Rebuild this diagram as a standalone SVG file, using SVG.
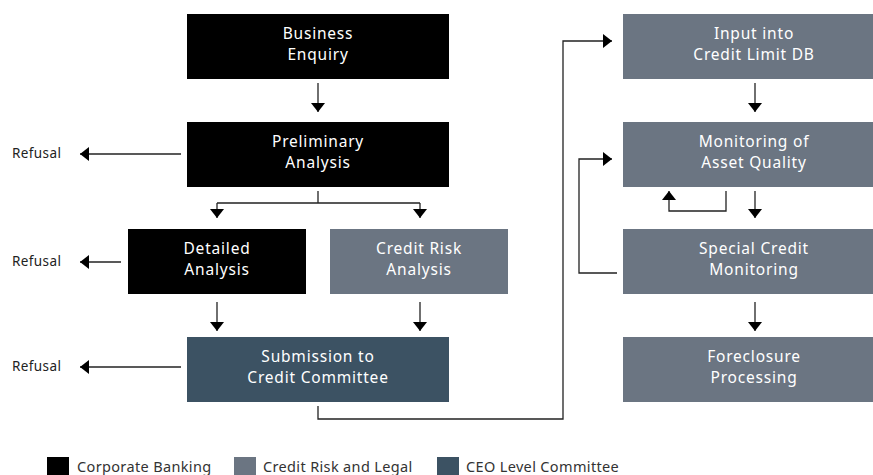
<svg xmlns="http://www.w3.org/2000/svg" width="873" height="475" viewBox="0 0 873 475">
  <defs>
    <marker id="head" markerUnits="userSpaceOnUse" viewBox="0 0 9 14" markerWidth="9" markerHeight="14" refX="9" refY="7" orient="auto">
      <path d="M0,0 L9,7 L0,14 Z" fill="#000"/>
    </marker>
    <style>
      .corp { fill: #000000; }
      .risk { fill: #6b7582; }
      .ceo { fill: #3c5263; }
      .label { font-family: "Noto Sans", "Liberation Sans", sans-serif; font-size: 15.5px; letter-spacing: 0.8px; fill: #ffffff; text-anchor: middle; }
      .side { font-family: "Noto Sans", "Liberation Sans", sans-serif; font-size: 13.5px; letter-spacing: 0.4px; fill: #222222; }
      .legend { font-family: "Noto Sans", "Liberation Sans", sans-serif; font-size: 14.5px; letter-spacing: 0.35px; fill: #333333; }
      .link { fill: none; stroke: #222222; stroke-width: 1.3; }
      .arrow { marker-end: url(#head); }
    </style>
  </defs>

  <!-- process nodes -->
  <g id="business-enquiry">
    <rect class="corp" x="187" y="14" width="262" height="65"/>
    <text class="label" x="318" y="39">Business</text>
    <text class="label" x="318" y="60">Enquiry</text>
  </g>
  <g id="preliminary-analysis">
    <rect class="corp" x="187" y="122" width="262" height="65"/>
    <text class="label" x="318" y="147">Preliminary</text>
    <text class="label" x="318" y="168">Analysis</text>
  </g>
  <g id="detailed-analysis">
    <rect class="corp" x="128" y="229" width="178" height="65"/>
    <text class="label" x="217" y="254">Detailed</text>
    <text class="label" x="217" y="275">Analysis</text>
  </g>
  <g id="credit-risk-analysis">
    <rect class="risk" x="330" y="229" width="178" height="65"/>
    <text class="label" x="419" y="254">Credit Risk</text>
    <text class="label" x="419" y="275">Analysis</text>
  </g>
  <g id="submission">
    <rect class="ceo" x="187" y="337" width="262" height="65"/>
    <text class="label" x="318" y="362">Submission to</text>
    <text class="label" x="318" y="383">Credit Committee</text>
  </g>
  <g id="input-credit-limit">
    <rect class="risk" x="623" y="14" width="262" height="65"/>
    <text class="label" x="754" y="39">Input into</text>
    <text class="label" x="754" y="60">Credit Limit DB</text>
  </g>
  <g id="monitoring-asset-quality">
    <rect class="risk" x="623" y="122" width="262" height="65"/>
    <text class="label" x="754" y="147">Monitoring of</text>
    <text class="label" x="754" y="168">Asset Quality</text>
  </g>
  <g id="special-credit-monitoring">
    <rect class="risk" x="623" y="229" width="262" height="65"/>
    <text class="label" x="754" y="254">Special Credit</text>
    <text class="label" x="754" y="275">Monitoring</text>
  </g>
  <g id="foreclosure-processing">
    <rect class="risk" x="623" y="337" width="262" height="65"/>
    <text class="label" x="754" y="362">Foreclosure</text>
    <text class="label" x="754" y="383">Processing</text>
  </g>

  <!-- refusal outcomes -->
  <g id="refusal-1"><text class="side" x="12" y="158">Refusal</text></g>
  <g id="refusal-2"><text class="side" x="12" y="266">Refusal</text></g>
  <g id="refusal-3"><text class="side" x="12" y="371">Refusal</text></g>

  <!-- connectors -->
  <g id="connectors">
    <path class="link arrow" d="M318,83 V112"/>
    <path class="link arrow" d="M181,154 H80"/>
    <path class="link" d="M318,191 V203 M217,203 H420"/>
    <path class="link arrow" d="M217,203 V218"/>
    <path class="link arrow" d="M420,203 V218"/>
    <path class="link arrow" d="M121,262 H80"/>
    <path class="link arrow" d="M217,302 V331"/>
    <path class="link arrow" d="M420,302 V331"/>
    <path class="link arrow" d="M181,367 H80"/>
    <path class="link arrow" d="M318,406 V419 H563 V41 H612"/>
    <path class="link arrow" d="M755,83 V112"/>
    <path class="link arrow" d="M755,191 V218"/>
    <path class="link arrow" d="M726,191 V211 H669 V191"/>
    <path class="link arrow" d="M617,273 H579 V159 H612"/>
    <path class="link arrow" d="M755,302 V331"/>
  </g>

  <!-- legend -->
  <g id="legend">
    <rect class="corp" x="47" y="457" width="22" height="22"/>
    <text class="legend" x="77" y="472">Corporate Banking</text>
    <rect class="risk" x="234" y="457" width="22" height="22"/>
    <text class="legend" x="263" y="472">Credit Risk and Legal</text>
    <rect class="ceo" x="437" y="457" width="22" height="22"/>
    <text class="legend" x="466" y="472">CEO Level Committee</text>
  </g>
</svg>
